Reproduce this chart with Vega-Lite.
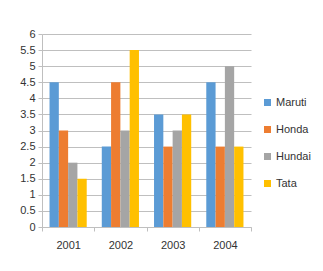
{
  "$schema": "https://vega.github.io/schema/vega-lite/v6.json",
  "width": 209,
  "height": 193,
  "autosize": "none",
  "padding": {"left": 42, "top": 34, "right": 72, "bottom": 44},
  "background": "white",
  "data": {
    "values": [
      {"year": "2001", "brand": "Maruti", "value": 4.5},
      {"year": "2001", "brand": "Honda", "value": 3},
      {"year": "2001", "brand": "Hundai", "value": 2},
      {"year": "2001", "brand": "Tata", "value": 1.5},
      {"year": "2002", "brand": "Maruti", "value": 2.5},
      {"year": "2002", "brand": "Honda", "value": 4.5},
      {"year": "2002", "brand": "Hundai", "value": 3},
      {"year": "2002", "brand": "Tata", "value": 5.5},
      {"year": "2003", "brand": "Maruti", "value": 3.5},
      {"year": "2003", "brand": "Honda", "value": 2.5},
      {"year": "2003", "brand": "Hundai", "value": 3},
      {"year": "2003", "brand": "Tata", "value": 3.5},
      {"year": "2004", "brand": "Maruti", "value": 4.5},
      {"year": "2004", "brand": "Honda", "value": 2.5},
      {"year": "2004", "brand": "Hundai", "value": 5},
      {"year": "2004", "brand": "Tata", "value": 2.5}
    ]
  },
  "mark": {"type": "bar"},
  "encoding": {
    "x": {
      "field": "year", "type": "nominal",
      "scale": {"paddingInner": 0, "paddingOuter": 0},
      "axis": {
        "title": null, "labelAngle": 0, "tickBand": "extent",
        "domainColor": "#BFBFBF", "tickColor": "#BFBFBF", "tickSize": 4,
        "labelFont": "Liberation Sans", "labelFontSize": 11, "labelColor": "#333333",
        "labelPadding": 8
      }
    },
    "xOffset": {
      "field": "brand", "type": "nominal",
      "sort": ["Maruti", "Honda", "Hundai", "Tata"],
      "scale": {"paddingInner": 0, "paddingOuter": 0.81}
    },
    "y": {
      "field": "value", "type": "quantitative",
      "scale": {"domain": [0, 6], "nice": false},
      "axis": {
        "title": null, "values": [0, 0.5, 1, 1.5, 2, 2.5, 3, 3.5, 4, 4.5, 5, 5.5, 6],
        "format": "~g",
        "grid": true, "gridColor": "#BFBFBF", "domainColor": "#BFBFBF",
        "tickColor": "#BFBFBF", "tickSize": 4,
        "labelFont": "Liberation Sans", "labelFontSize": 11, "labelColor": "#333333",
        "labelPadding": 3
      }
    },
    "color": {
      "field": "brand", "type": "nominal",
      "sort": ["Maruti", "Honda", "Hundai", "Tata"],
      "scale": {"domain": ["Maruti", "Honda", "Hundai", "Tata"], "range": ["#5B9BD5", "#ED7D31", "#A5A5A5", "#FFC000"]},
      "legend": {
        "title": null, "orient": "none", "legendX": 220, "legendY": 63,
        "symbolType": "square", "symbolSize": 49, "symbolStrokeWidth": 0,
        "labelFont": "Liberation Sans", "labelFontSize": 11, "labelColor": "#333333",
        "rowPadding": 15, "labelOffset": 3
      }
    }
  },
  "config": {"view": {"stroke": null}}
}
